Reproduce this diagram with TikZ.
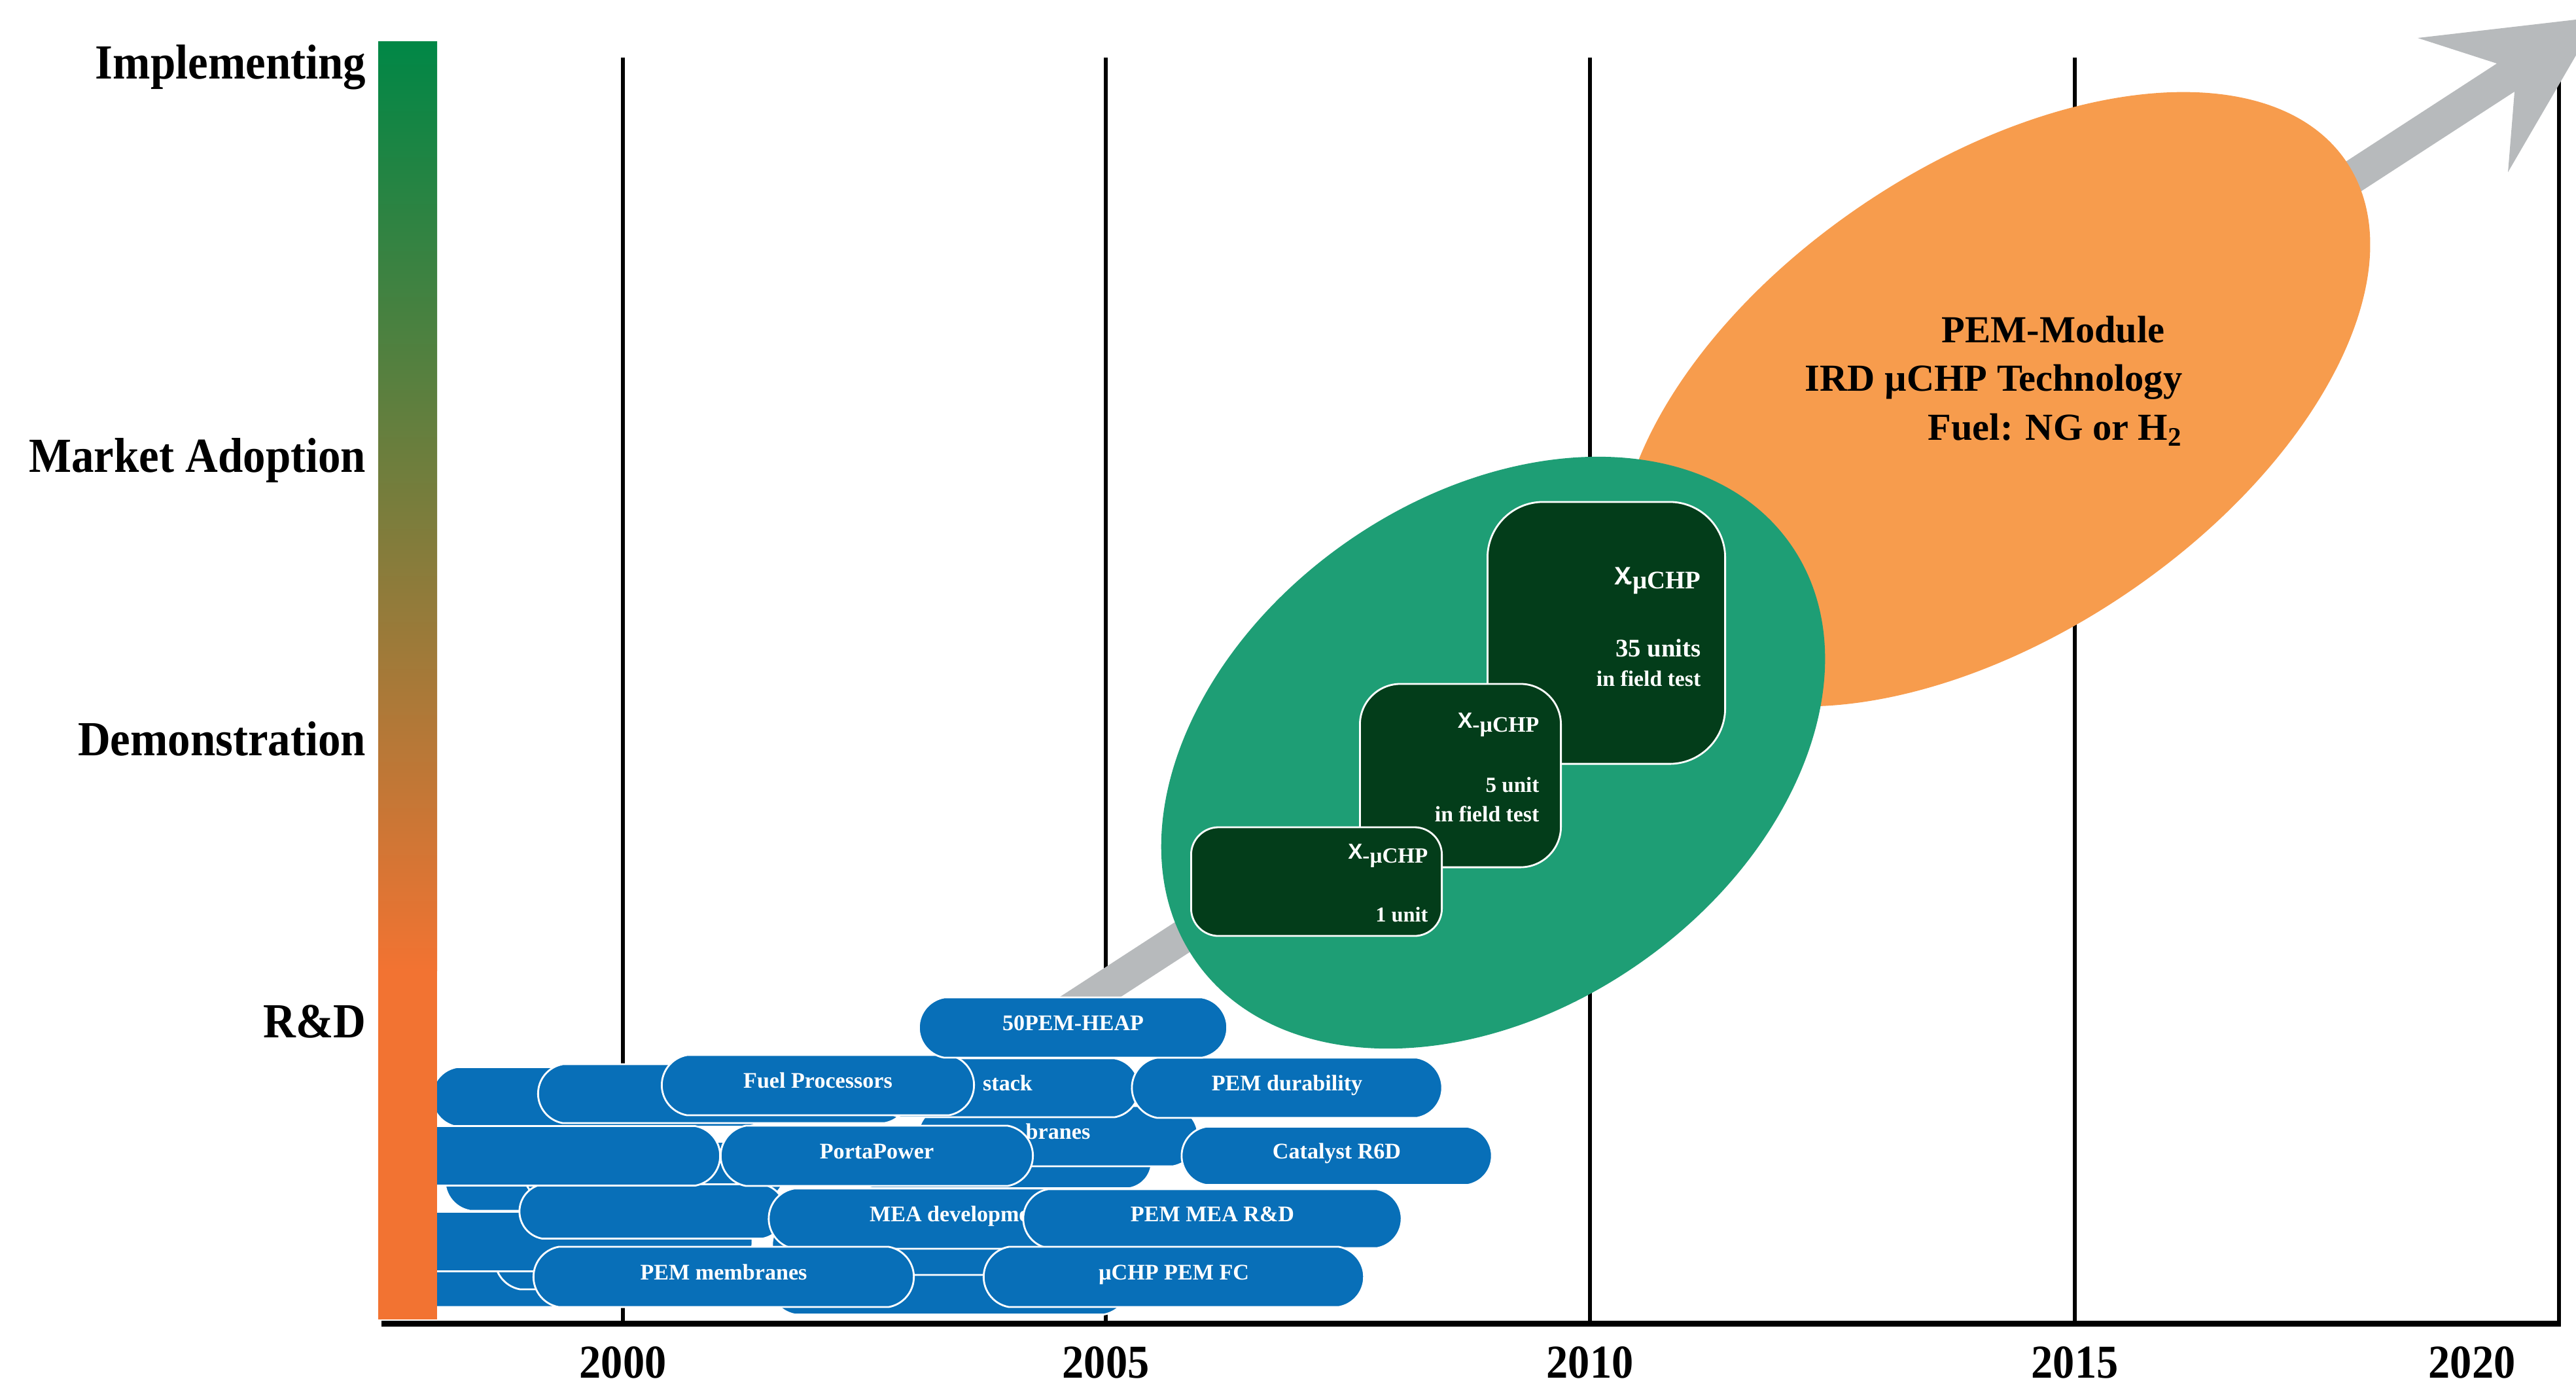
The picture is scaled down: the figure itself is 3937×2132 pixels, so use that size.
\documentclass[tikz,border=0pt]{standalone}
\usepackage{fontspec}
\setmainfont{Liberation Serif}
\newfontfamily\condserif[FakeStretch=0.92]{Liberation Serif}
\newfontfamily\xsans{Liberation Sans}
\usetikzlibrary{shapes.misc}

\definecolor{pemblue}{RGB}{8,111,184}
\definecolor{fieldgreen}{RGB}{3,61,26}
\definecolor{demogreen}{RGB}{30,158,117}
\definecolor{moduleorange}{RGB}{247,156,77}
\definecolor{trendgrey}{RGB}{183,186,188}
\definecolor{implgreen}{RGB}{0,135,70}
\definecolor{rdorange}{RGB}{242,115,50}

\tikzset{
  pill/.style={shape=rounded rectangle, rounded rectangle arc length=160, fill=pemblue, draw=white,
    line width=0.8pt, minimum height=0.92cm, inner sep=0pt, text height=0.7em, text depth=0.45em,
    text=white, font=\bfseries\fontsize{9.7}{11}\selectfont},
  fieldbox/.style={fill=fieldgreen, draw=white, line width=0.8pt, inner sep=0pt},
  fieldtext/.style={anchor=base east, inner sep=0pt, text=white, font=\bfseries\fontsize{9.6}{11}\selectfont},
  stage/.style={anchor=base east, inner sep=0pt, font=\condserif\bfseries\fontsize{21.3}{25}\selectfont},
  year/.style={anchor=base, inner sep=0pt, font=\condserif\bfseries\fontsize{20.5}{24}\selectfont},
  moduletext/.style={anchor=base east, inner sep=0pt, font=\bfseries\fontsize{16.6}{20}\selectfont},
}
\newcommand{\chpx}{\raisebox{1.7pt}{\xsans X}}

\begin{document}
\begin{tikzpicture}[x=0.01cm, y=-0.01cm]
    \useasboundingbox (0,0) rectangle (3937,2132);

    % Year grid
    \foreach \x in {952,1690,2430,3171,3911} \draw [line width=1.55pt] (\x,88) -- (\x,2018);

    % Trend arrow
    \fill [trendgrey] (1600,1536) -- (3816,97) -- (3695,58) -- (3971,26) -- (3833,263) -- (3843,140) -- (1650,1564) -- cycle;

    % PEM-Module
    \fill [moduleorange, rotate around={34:(3048,610)}] (3048,610) ellipse [x radius=649, y radius=359];
    \node [moduletext] (mod1) at (3309,523) {PEM-Module};
    \node [moduletext] (mod2) at (3336,597) {IRD µCHP Technology};
    \node [moduletext] (mod3) at (3336,672) {Fuel: NG or H\textsubscript{2}};

    % Field tests
    \fill [demogreen, rotate around={35:(2282,1150)}] (2282,1150) ellipse [x radius=555, y radius=392];
    \node [fieldbox, minimum width=3.63cm, minimum height=4cm, rounded corners=0.85cm] (field35) at (2455,967) {};
    \node [fieldtext, font=\bfseries\fontsize{11}{13}\selectfont] (field35a) at (2600,899) {\chpx\kern-3pt-µCHP};
    \node [fieldtext, font=\bfseries\fontsize{11}{13}\selectfont] (field35b) at (2600,1003) {35 units};
    \node [fieldtext] (field35c) at (2600,1048) {in field test};
    \node [fieldbox, minimum width=3.07cm, minimum height=2.8cm, rounded corners=0.62cm] (field5) at (2232,1185) {};
    \node [fieldtext] (field5a) at (2353,1118) {\chpx-µCHP};
    \node [fieldtext, font=\bfseries\fontsize{9.4}{11}\selectfont] (field5b) at (2353,1210) {5 unit};
    \node [fieldtext] (field5c) at (2353,1255) {in field test};
    \node [fieldbox, minimum width=3.83cm, minimum height=1.66cm, rounded corners=0.42cm] (field1) at (2012,1347) {};
    \node [fieldtext, font=\bfseries\fontsize{9.4}{11}\selectfont] (field1a) at (2183,1318) {\chpx-µCHP};
    \node [fieldtext, font=\bfseries\fontsize{9.2}{11}\selectfont] (field1b) at (2183,1408) {1 unit};

    % R&D projects
    \foreach \cx/\cy/\w/\h [count=\i] in {1451/1963/5.48/0.91, 1460/1902/5.60/0.92, 815/1951/4.30/0.92,
        938/1924/3.63/0.92, 875/1897/5.50/0.91, 915/1804/4.70/0.92, 1000/1790/4.00/0.91,
        997/1851/4.06/0.83, 920/1676/5.20/0.91, 1106/1671/5.67/0.90, 850/1766/5.01/0.91, 1530/1775/4.60/0.81}
      \node [pill, minimum width=\w cm, minimum height=\h cm] (proj\i) at (\cx,\cy) {};
    \node [pill, minimum width=4.28cm] (branes) at (1617,1736) {branes};
    \node [pill, minimum width=4.02cm, minimum height=0.90cm] (stack) at (1540,1662) {stack};
    \node [pill, minimum width=4.77cm] (fuel) at (1250,1658) {Fuel Processors};
    \node [pill, minimum width=4.77cm] (porta) at (1340,1766) {PortaPower};
    \node [pill, minimum width=4.74cm] (durab) at (1967,1662) {PEM durability};
    \node [pill, minimum width=4.74cm, minimum height=0.89cm] (catal) at (2043,1766) {Catalyst R6D};
    \node [pill, minimum width=4.71cm] (heap) at (1640,1570) {50PEM-HEAP};
    \node [pill, minimum width=5.82cm] (meadev) at (1466,1862) {MEA development};
    \node [pill, minimum width=5.78cm, minimum height=0.90cm] (pemmea) at (1853,1862) {PEM MEA R\&D};
    \node [pill, minimum width=5.81cm] (pemmem) at (1106,1951) {PEM membranes};
    \node [pill, minimum width=5.81cm] (chpfc) at (1794,1951) {µCHP PEM FC};

    % Stage bar and time axis
    \shade [top color=implgreen, bottom color=rdorange] (578,63) rectangle (668,1483);
    \fill [rdorange] (578,1482) rectangle (668,2016);
    \draw [line width=2.56pt] (583,2022) -- (3914,2022);
    \node [stage] (impl) at (560,120) {Implementing};
    \node [stage] (market) at (560,721) {Market Adoption};
    \node [stage] (demo) at (560,1154) {Demonstration};
    \node [stage] (rd) at (560,1585) {R\&D};
    \foreach \x/\yr in {952/2000,1690/2005,2430/2010,3171/2015,3778/2020}
      \node [year] (yr\yr) at (\x,2105) {\yr};
\end{tikzpicture}
\end{document}
